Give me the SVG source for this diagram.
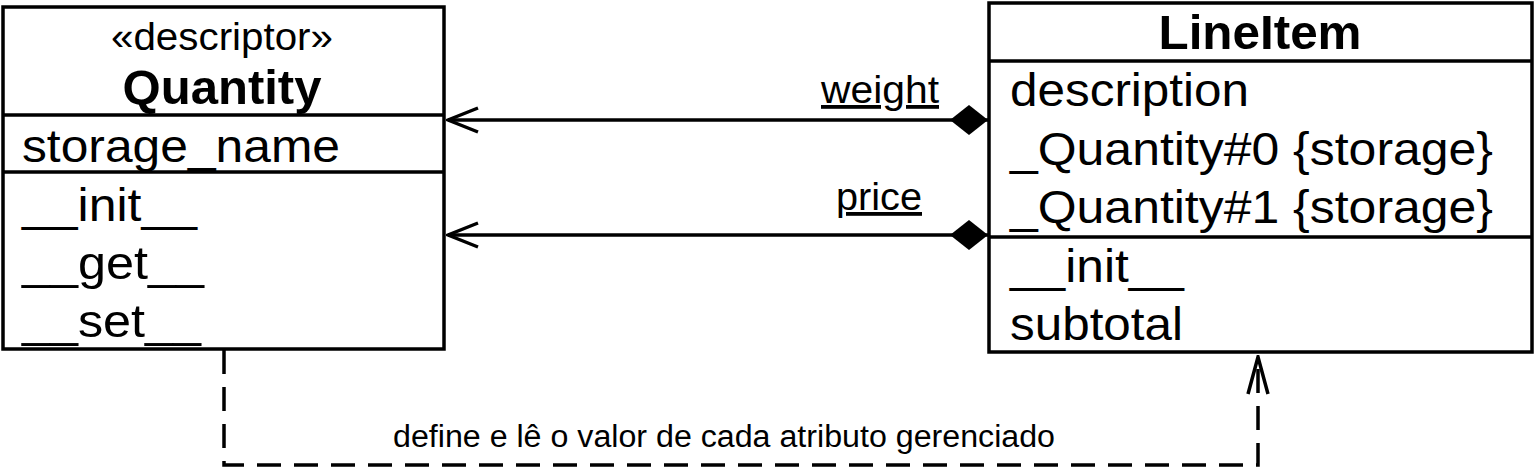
<svg xmlns="http://www.w3.org/2000/svg" width="1535" height="469" viewBox="0 0 1535 469">
<style>
.box{fill:#fff;stroke:#000;stroke-width:3.5}
.ln{stroke:#000;stroke-width:3.5;fill:none}
text{font-family:"Liberation Sans",Arial,sans-serif;fill:#000}
.t{font-size:46px}
.b{font-size:49px;font-weight:bold}
.s{font-size:38px}
.lbl{font-size:38px;text-decoration:underline}
.note{font-size:31px}
</style>
<defs>
<marker id="open" viewBox="0 0 34 28" refX="32" refY="14" markerWidth="34" markerHeight="28" markerUnits="userSpaceOnUse" orient="auto">
<path d="M2 2 L32 14 L2 26" fill="none" stroke="#000" stroke-width="3.5"/>
</marker>
<marker id="openv" viewBox="0 0 40 24" refX="38" refY="12" markerWidth="40" markerHeight="24" markerUnits="userSpaceOnUse" orient="auto">
<path d="M1 2 L38 12 L1 22" fill="none" stroke="#000" stroke-width="3.5"/>
</marker>
<marker id="dia" viewBox="0 0 40 32" refX="1" refY="16" markerWidth="40" markerHeight="32" markerUnits="userSpaceOnUse" orient="auto">
<path d="M1 16 L20 1 L39 16 L20 31 Z" fill="#000"/>
</marker>
</defs>
<g id="Quantity">
<rect class="box" x="3" y="7" width="441" height="342"/>
<line class="ln" x1="3" y1="115" x2="444" y2="115"/>
<line class="ln" x1="3" y1="172" x2="444" y2="172"/>
<text class="s" x="222" y="50" text-anchor="middle" textLength="222" lengthAdjust="spacingAndGlyphs">«descriptor»</text>
<text class="b" x="222" y="104" text-anchor="middle" textLength="199" lengthAdjust="spacingAndGlyphs">Quantity</text>
<text class="t" x="22" y="162" textLength="318" lengthAdjust="spacingAndGlyphs">storage_name</text>
<text class="t" x="22" y="221" textLength="175" lengthAdjust="spacingAndGlyphs">__init__</text>
<text class="t" x="22" y="279" textLength="182" lengthAdjust="spacingAndGlyphs">__get__</text>
<text class="t" x="22" y="337" textLength="179" lengthAdjust="spacingAndGlyphs">__set__</text>
</g>
<g id="LineItem">
<rect class="box" x="989" y="3" width="543" height="349"/>
<line class="ln" x1="989" y1="61" x2="1532" y2="61"/>
<line class="ln" x1="989" y1="237" x2="1532" y2="237"/>
<text class="b" x="1260" y="49" text-anchor="middle" textLength="203" lengthAdjust="spacingAndGlyphs">LineItem</text>
<text class="t" x="1010" y="106" textLength="239" lengthAdjust="spacingAndGlyphs">description</text>
<text class="t" x="1010" y="165" textLength="483" lengthAdjust="spacingAndGlyphs">_Quantity#0 {storage}</text>
<text class="t" x="1010" y="223" textLength="483" lengthAdjust="spacingAndGlyphs">_Quantity#1 {storage}</text>
<text class="t" x="1010" y="282" textLength="174" lengthAdjust="spacingAndGlyphs">__init__</text>
<text class="t" x="1010" y="340" textLength="173" lengthAdjust="spacingAndGlyphs">subtotal</text>
</g>
<g id="connectors">
<line class="ln" x1="988" y1="120" x2="448" y2="120" marker-start="url(#dia)" marker-end="url(#open)"/>
<line class="ln" x1="988" y1="235" x2="448" y2="235" marker-start="url(#dia)" marker-end="url(#open)"/>
<text class="lbl" x="821" y="103" textLength="118" lengthAdjust="spacingAndGlyphs">weight</text>
<text class="lbl" x="836" y="210" textLength="86" lengthAdjust="spacingAndGlyphs">price</text>
<path class="ln" d="M224 350 V465 H1258 V357" stroke-dasharray="24 13" marker-end="url(#openv)"/>
<text class="note" x="393" y="447" textLength="662" lengthAdjust="spacingAndGlyphs">define e lê o valor de cada atributo gerenciado</text>
</g>
</svg>
